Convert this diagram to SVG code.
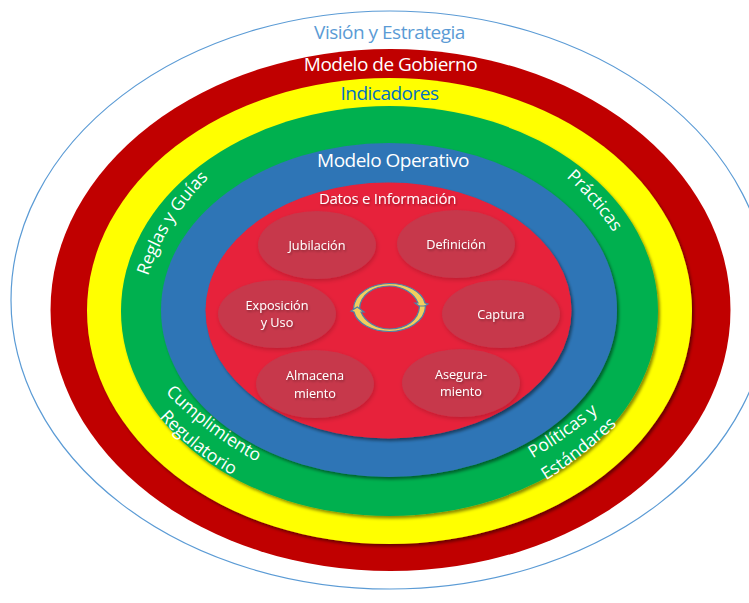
<svg xmlns="http://www.w3.org/2000/svg" width="749" height="603" viewBox="0 0 749 603">
<style>
text{font-family:"Open Sans","Noto Sans","Liberation Sans",sans-serif;text-anchor:middle;fill:#fff}
.t{font-size:19px;letter-spacing:-.5px;font-weight:500}
.s{font-size:12.700px;filter:url(#ts)}
.c{font-size:17.500px}
.ring{filter:url(#sh)}
.step{fill:#c7374b;filter:url(#ss)}
.cy{fill:#f2cf5e;stroke:#4f81a8;stroke-width:1.2}
</style>
<defs>
<filter id="sh" x="-5%" y="-5%" width="110%" height="110%"><feDropShadow dx="2" dy="2.5" stdDeviation="1.5" flood-color="#000" flood-opacity=".45"/></filter>
<filter id="ss" x="-10%" y="-10%" width="120%" height="120%"><feDropShadow dx="1" dy="2" stdDeviation="2" flood-color="#000" flood-opacity=".18"/></filter>
<filter id="ts" x="-10%" y="-20%" width="120%" height="150%"><feDropShadow dx="1" dy="1.5" stdDeviation="1" flood-color="#000" flood-opacity=".35"/></filter>
<path id="p1" d="M147,279 Q166,218 211,176"/>
<path id="p2" d="M564,175 Q593,201 615,235"/>
<path id="p3" d="M159,386 Q205,435 265,466"/>
<path id="p4" d="M153,410 Q189,452 241,480"/>
<path id="p5" d="M530,460 Q566,439 601,410"/>
<path id="p6" d="M545,481 Q583,457 618,424"/>
</defs>
<rect width="749" height="603" fill="#fff"/>
<g id="vision"><ellipse cx="390" cy="300" rx="379" ry="289" fill="#fff" stroke="#5b9bd5" stroke-width="1.2"/>
<text class="t" x="389.500" y="39" style="fill:#5b9bd5">Visión y Estrategia</text></g>
<g id="gobierno"><ellipse cx="390.500" cy="310" rx="340" ry="261" fill="#c00000"/>
<text class="t" x="390.500" y="71">Modelo de Gobierno</text></g>
<g id="indicadores"><ellipse class="ring" cx="389.500" cy="311" rx="302.500" ry="233" fill="#ff0"/>
<text class="t" x="389.500" y="100" style="fill:#0070c0">Indicadores</text></g>
<g id="practicas"><ellipse class="ring" cx="389.500" cy="311" rx="268.500" ry="205" fill="#00b050"/>
<text class="c"><textPath href="#p1" startOffset="50%">Reglas y Guías</textPath></text>
<text class="c"><textPath href="#p2" startOffset="50%">Prácticas</textPath></text>
<text class="c"><textPath href="#p3" startOffset="50%">Cumplimiento</textPath></text>
<text class="c"><textPath href="#p4" startOffset="50%">Regulatorio</textPath></text>
<text class="c"><textPath href="#p5" startOffset="50%">Políticas y</textPath></text>
<text class="c"><textPath href="#p6" startOffset="50%">Estándares</textPath></text></g>
<g id="operativo"><ellipse class="ring" cx="389" cy="310" rx="228" ry="167" fill="#2e75b6"/>
<text class="t" x="393" y="167">Modelo Operativo</text></g>
<g id="datos"><ellipse class="ring" cx="388.500" cy="310.500" rx="183" ry="128" fill="#e7213a"/>
<text x="387.500" y="204" style="font-size:15px;letter-spacing:-.25px;font-weight:500;filter:url(#ts)">Datos e Información</text></g>
<g id="jubilacion"><ellipse class="step" cx="317" cy="245" rx="59" ry="34"/><text class="s" x="317" y="250">Jubilación</text></g>
<g id="definicion"><ellipse class="step" cx="456" cy="244" rx="59" ry="34"/><text class="s" x="456" y="249">Definición</text></g>
<g id="exposicion"><ellipse class="step" cx="277" cy="314" rx="59" ry="34"/><text class="s" x="277" y="310">Exposición</text><text class="s" x="277" y="327">y Uso</text></g>
<g id="captura"><ellipse class="step" cx="501" cy="314" rx="59" ry="34"/><text class="s" x="501" y="319">Captura</text></g>
<g id="almacenamiento"><ellipse class="step" cx="315" cy="384" rx="59" ry="34"/><text class="s" x="315" y="380">Almacena</text><text class="s" x="315" y="398">miento</text></g>
<g id="aseguramiento"><ellipse class="step" cx="461" cy="383" rx="59" ry="34"/><text class="s" x="461" y="379">Asegura-</text><text class="s" x="461" y="396">miento</text></g>
<g id="connectors">
<path class="cy" d="M353.500,309 C354,293 372,283.500 389.500,283.500 C406,283.500 422,291 425,303 L428,304 L421.700,308 L415,303 L418,303 C414,293 402,286 389.500,286 C373,286 360,295 359.500,309 Z"/>
<path class="cy" d="M353.500,309 C354,293 372,283.500 389.500,283.500 C406,283.500 422,291 425,303 L428,304 L421.700,308 L415,303 L418,303 C414,293 402,286 389.500,286 C373,286 360,295 359.500,309 Z" transform="rotate(180 389.500 307.500)"/>
</g>
</svg>
